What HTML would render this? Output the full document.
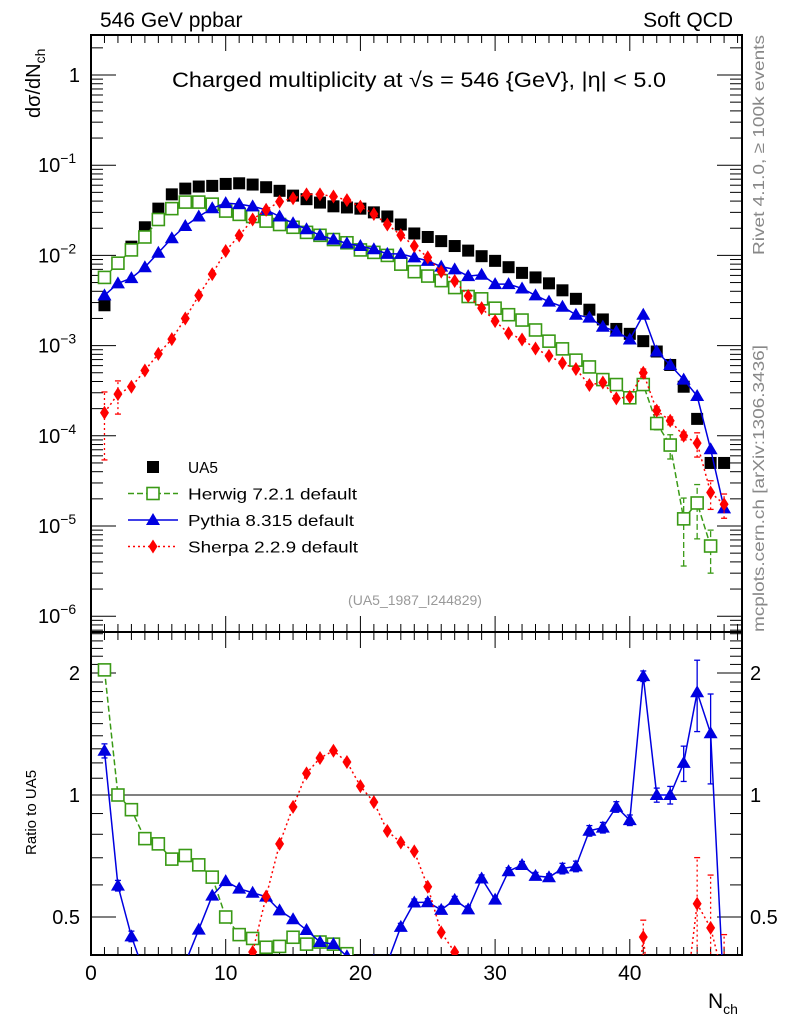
<!DOCTYPE html>
<html><head><meta charset="utf-8"><style>
html,body{margin:0;padding:0;background:#fff;width:786px;height:1024px;overflow:hidden}
svg{display:block;font-family:"Liberation Sans",sans-serif}
</style></head><body>
<svg id="c" width="786" height="1024" viewBox="0 0 786 1024">
<defs>
<clipPath id="clipMain"><rect x="91" y="35" width="651" height="597"/></clipPath>
<clipPath id="clipRatio"><rect x="91" y="632" width="651" height="323"/></clipPath>
</defs>
<g id="axes"></g>
<g id="series"></g>
<text x="100" y="27" font-size="21">546 GeV ppbar</text>
<text x="733" y="27" font-size="21" text-anchor="end">Soft QCD</text>
<text x="172" y="87" font-size="21" textLength="494" lengthAdjust="spacingAndGlyphs">Charged multiplicity at √s = 546 {GeV}, |η| &lt; 5.0</text>
<text x="415" y="605" font-size="14" fill="#999" text-anchor="middle">(UA5_1987_I244829)</text>
<text transform="translate(764,255) rotate(-90)" font-size="16" fill="#888" textLength="220" lengthAdjust="spacingAndGlyphs">Rivet 4.1.0, ≥ 100k events</text>
<text transform="translate(764,632) rotate(-90)" font-size="16" fill="#888" textLength="287" lengthAdjust="spacingAndGlyphs">mcplots.cern.ch [arXiv:1306.3436]</text>
<text transform="translate(40,118) rotate(-90)" font-size="20">dσ/dN<tspan font-size="14" dy="5">ch</tspan></text>
<text transform="translate(36,855) rotate(-90)" font-size="15">Ratio to UA5</text>
<text x="708" y="1008" font-size="21">N<tspan font-size="14" dy="6">ch</tspan></text>
<g id="legend"></g>
</svg>
<script>
const xs = [1,2,3,4,5,6,7,8,9,10,11,12,13,14,15,16,17,18,19,20,21,22,23,24,25,26,27,28,29,30,31,32,33,34,35,36,37,38,39,40,41,42,43,44,45,46,47];
const ua5 = [2.8e-3,8.2e-3,1.25e-2,2.05e-2,3.3e-2,4.75e-2,5.5e-2,5.8e-2,5.9e-2,6.2e-2,6.3e-2,6.1e-2,5.7e-2,5.2e-2,4.6e-2,4.2e-2,3.85e-2,3.5e-2,3.4e-2,3.3e-2,3.0e-2,2.7e-2,2.2e-2,1.75e-2,1.6e-2,1.44e-2,1.27e-2,1.13e-2,9.8e-3,8.7e-3,7.4e-3,6.4e-3,5.7e-3,4.9e-3,4.1e-3,3.3e-3,2.5e-3,1.95e-3,1.53e-3,1.35e-3,1.12e-3,8.6e-4,6.1e-4,3.5e-4,1.54e-4,5.0e-5,5.0e-5];
const herwig = [5.7e-3,8.2e-3,1.15e-2,1.6e-2,2.5e-2,3.3e-2,3.9e-2,3.9e-2,3.7e-2,3.1e-2,2.85e-2,2.7e-2,2.4e-2,2.2e-2,2.05e-2,1.8e-2,1.67e-2,1.5e-2,1.38e-2,1.15e-2,1.08e-2,1.0e-2,8.0e-3,6.6e-3,5.9e-3,5.25e-3,4.4e-3,3.5e-3,3.3e-3,2.6e-3,2.2e-3,1.92e-3,1.49e-3,1.12e-3,9.2e-4,6.9e-4,5.8e-4,4.2e-4,3.7e-4,2.64e-4,3.7e-4,1.37e-4,7.9e-5,1.2e-5,1.8e-5,6.0e-6,null];
const pythia = [3.6e-3,4.9e-3,5.6e-3,7.4e-3,1.07e-2,1.55e-2,2.12e-2,2.7e-2,3.33e-2,3.8e-2,3.7e-2,3.5e-2,3.2e-2,2.7e-2,2.27e-2,1.95e-2,1.67e-2,1.5e-2,1.36e-2,1.27e-2,1.17e-2,1.04e-2,1.04e-2,9.5e-3,8.7e-3,7.5e-3,7.0e-3,5.9e-3,6.1e-3,4.8e-3,4.8e-3,4.3e-3,3.6e-3,3.07e-3,2.7e-3,2.2e-3,2.04e-3,1.62e-3,1.43e-3,1.17e-3,2.2e-3,8.6e-4,6.1e-4,4.2e-4,2.76e-4,7.1e-5,1.57e-5];
const sherpa = [1.8e-4,2.9e-4,3.5e-4,5.3e-4,8.1e-4,1.18e-3,2.0e-3,3.6e-3,6.2e-3,1.12e-2,1.66e-2,2.5e-2,3.2e-2,3.94e-2,4.3e-2,4.75e-2,4.75e-2,4.5e-2,4.1e-2,3.47e-2,2.88e-2,2.2e-2,1.68e-2,1.27e-2,9.5e-3,6.6e-3,5.2e-3,3.55e-3,2.6e-3,1.87e-3,1.37e-3,1.17e-3,9.3e-4,7.7e-4,6.4e-4,5.5e-4,3.66e-4,3.9e-4,2.6e-4,2.7e-4,5.0e-4,1.9e-4,1.47e-4,1.0e-4,8.3e-5,2.35e-5,1.74e-5];
const herwigErr = [0,0,0,0,0,0,0,0,0,0,0,0,0,0,0,0,0,0,0,0,0,0,0,0,0,0,0,0,0,0,0,0,0,0,0,0,0,0,0,0,0.08,0.15,0.3,0.7,0.6,0.5,0];
const pythiaErr = [0.04,0.03,0.03,0,0,0,0,0,0,0,0,0,0,0,0,0,0,0,0,0,0,0,0.02,0.02,0.02,0.02,0.02,0.02,0.02,0.02,0.02,0.02,0.02,0.02,0.03,0.03,0.03,0.03,0.03,0.03,0.03,0.04,0.05,0.1,0.2,0.25,0];
const sherpaErr = [0.7,0.4,0,0,0,0,0,0,0,0,0,0,0,0,0,0,0,0,0,0,0,0,0,0,0,0,0,0,0,0,0,0,0,0,0,0,0,0,0,0,0.1,0.1,0.1,0.1,0.3,0.35,0.3];
const xTicks = [0,10,20,30,40];
const yDecades = [0,-1,-2,-3,-4,-5,-6];
const ratioTicks = [2,1,0.5];

const NS='http://www.w3.org/2000/svg';
const X0=91,X1=742;
const MT=35,MB=632,RT=632,RB=955;
const px=v=>X0+v*13.47;
const py=v=>75-Math.log10(v)*90.2;
const ry=r=>795-Math.log2(r)*122;
function mk(tag,attrs,parent){const e=document.createElementNS(NS,tag);for(const k in attrs)e.setAttribute(k,attrs[k]);parent.appendChild(e);return e;}
const ax=document.getElementById('axes');
let f1=mk('rect',{x:X0,y:MT,width:X1-X0,height:MB-MT,fill:'none',stroke:'#000','stroke-width':2},ax);


let f2=mk('rect',{x:X0,y:RT,width:X1-X0,height:RB-RT,fill:'none',stroke:'#000','stroke-width':2},ax);


for(let v=0;v<=48;v++){const x=px(v);if(x>X1)break;const L=v%10===0?16:8;
 for(const [t,b] of [[MT,MB],[RT,RB]]){
  mk('line',{x1:x,y1:t,x2:x,y2:t+L,stroke:'#000','stroke-width':1},ax);
  mk('line',{x1:x,y1:b,x2:x,y2:b-L,stroke:'#000','stroke-width':1},ax);}}
xTicks.forEach(v=>{const t=mk('text',{x:px(v),y:980,'font-size':21,'text-anchor':'middle'},ax);t.textContent=v;
 
 });
for(let d=-7;d<=0;d++){for(let m=1;m<10;m++){const v=m*Math.pow(10,d);const y=py(v);if(y<MT||y>MB)continue;const L=m===1?25:12;
 mk('line',{x1:X0,y1:y,x2:X0+L,y2:y,stroke:'#000','stroke-width':1},ax);
 mk('line',{x1:X1,y1:y,x2:X1-L,y2:y,stroke:'#000','stroke-width':1},ax);}}
yDecades.forEach(d=>{const y=py(Math.pow(10,d));const t=mk('text',{x:d===0?80:38,y:y+7,'font-size':20,'text-anchor':d===0?'end':'start'},ax);
 if(d===0)t.textContent='1';else{t.textContent='10';const s=mk('tspan',{'font-size':14,dy:-9},t);s.textContent=String(d).replace('-','−');}
 
 });
[0.4,0.5,0.6,0.7,0.8,0.9,1,1.1,1.2,1.3,1.4,1.5,1.6,1.7,1.8,1.9,2,2.1,2.2,2.3,2.4,2.5].forEach(r=>{const y=ry(r);if(y<RT||y>RB)return;const L=(r===0.5||r===1||r===2)?25:12;
 mk('line',{x1:X0,y1:y,x2:X0+L,y2:y,stroke:'#000','stroke-width':1},ax);
 mk('line',{x1:X1,y1:y,x2:X1-L,y2:y,stroke:'#000','stroke-width':1},ax);});
ratioTicks.forEach(r=>{const y=ry(r);
 const t=mk('text',{x:80,y:y+7,'font-size':20,'text-anchor':'end'},ax);t.textContent=r;
 
 
 const t2=mk('text',{x:750,y:y+7,'font-size':20},ax);t2.textContent=r;
 
 });
let one=mk('line',{x1:X0,y1:ry(1),x2:X1,y2:ry(1),stroke:'#000','stroke-width':1},ax);



const sg=document.getElementById('series');
function marker(g,type,x,y,color){
 if(type==='sq')return mk('rect',{x:x-6,y:y-6,width:12,height:12,fill:'#000'},g);
 if(type==='osq')return mk('rect',{x:x-6,y:y-6,width:12,height:12,fill:'#fff',stroke:color,'stroke-width':1.6},g);
 if(type==='tri')return mk('polygon',{points:`${x},${y-7} ${x-7},${y+5} ${x+7},${y+5}`,fill:color},g);
 return mk('polygon',{points:`${x},${y-7} ${x-4.5},${y} ${x},${y+7} ${x+4.5},${y}`,fill:color},g);}
function drawSeries(name,vals,errs,type,color,dash,ratio){
 const g=mk('g',{'clip-path':ratio?'url(#clipRatio)':'url(#clipMain)'},sg);
 
 
 const pts=[];
 xs.forEach((x,i)=>{let v=vals[i];if(v==null)return;if(ratio)v=v/ua5[i];pts.push([px(x),ratio?ry(v):py(v),v,errs?errs[i]:0]);});
 if(type!=='sq'){mk('polyline',{points:pts.map(p=>p[0]+','+p[1]).join(' '),fill:'none',stroke:color,'stroke-width':1.5,'stroke-dasharray':dash},g);}
 pts.forEach(p=>{if(p[3]>0){const v=p[2];const lo=v*(1-Math.min(p[3],0.9)),hi=v*(1+p[3]);
   const f=ratio?ry:py;const yl=f(lo),yh=f(hi);
   mk('line',{x1:p[0],y1:yl,x2:p[0],y2:yh,stroke:color,'stroke-width':1.3,'stroke-dasharray':dash},g);
   mk('line',{x1:p[0]-3,y1:yl,x2:p[0]+3,y2:yl,stroke:color,'stroke-width':1.3},g);
   mk('line',{x1:p[0]-3,y1:yh,x2:p[0]+3,y2:yh,stroke:color,'stroke-width':1.3},g);}
  const m=marker(g,type,p[0],p[1],color);
  
  });}
drawSeries('ua5',ua5,null,'sq','#000','',false);
drawSeries('herwig',herwig,herwigErr,'osq','#3a9a16','6,3',false);
drawSeries('pythia',pythia,null,'tri','#0000e0','',false);
drawSeries('sherpa',sherpa,sherpaErr,'dia','#ff0000','2,3',false);
drawSeries('herwig',herwig,herwigErr,'osq','#3a9a16','6,3',true);
drawSeries('pythia',pythia,pythiaErr,'tri','#0000e0','',true);
drawSeries('sherpa',sherpa,sherpaErr,'dia','#ff0000','2,3',true);
const lg=document.getElementById('legend');
[['UA5','sq','#000','',30],['Herwig 7.2.1 default','osq','#3a9a16','6,3',169],['Pythia 8.315 default','tri','#0000e0','',166],['Sherpa 2.2.9 default','dia','#ff0000','2,3',170]].forEach((e,i)=>{
 const y=467+i*26.5;const g=mk('g',{},lg);
 
 
 if(e[1]!=='sq')mk('line',{x1:128,y1:y,x2:178,y2:y,stroke:e[2],'stroke-width':1.5,'stroke-dasharray':e[3]},g);
 marker(g,e[1],153,y,e[2]);
 const t=mk('text',{x:188,y:y+6,'font-size':16,textLength:e[4],lengthAdjust:'spacingAndGlyphs'},g);t.textContent=e[0];});
</script>
</body></html>
